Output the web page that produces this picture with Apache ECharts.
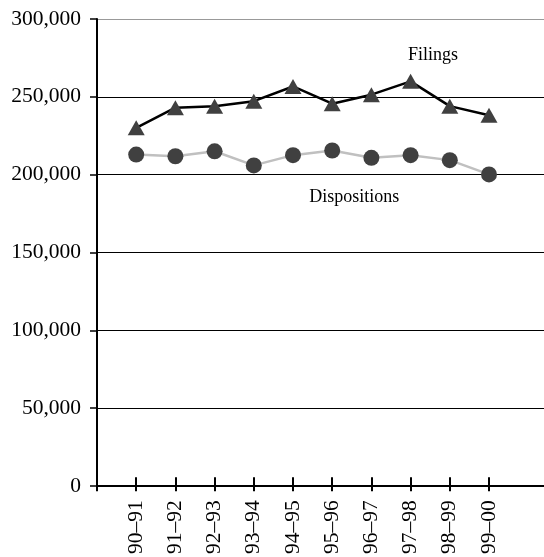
<!DOCTYPE html>
<html>
<head>
<meta charset="utf-8">
<script src="https://cdn.jsdelivr.net/npm/echarts@6/dist/echarts.min.js"></script>
<style>
  html, body { margin: 0; padding: 0; background: #fff; }
  #chart { width: 544px; height: 557px; }
</style>
</head>
<body>
<div id="chart"></div>
<script>
// fiscal years
const years = ['90–91', '91–92', '92–93', '93–94', '94–95', '95–96', '96–97', '97–98', '98–99', '99–00'];
const filings = [229800, 242800, 243800, 247000, 256500, 245400, 251200, 259800, 243800, 237900];
const dispositions = [212600, 211500, 214700, 205600, 212200, 215200, 210500, 212200, 209000, 199800];
const yTicks = [0, 50000, 100000, 150000, 200000, 250000, 300000];

const font = 'Liberation Serif';
const toPts = arr => arr.map((v, i) => [i + 1, v]);

const chart = echarts.init(document.getElementById('chart'));
chart.setOption({
  animation: false,
  grid: [
    { left: 97, right: 0, top: 19, bottom: 71 },
    { left: 97, width: 392, top: 19, bottom: 71 }
  ],
  xAxis: [{
    // long axis line running to the edge
    type: 'value', gridIndex: 0, position: 'bottom', min: 0, max: 11.4,
    axisLine: { show: true, lineStyle: { color: '#000', width: 2 } },
    axisTick: { show: false },
    axisLabel: { show: false },
    splitLine: { show: false }
  }, {
    type: 'value', gridIndex: 1, position: 'bottom', min: 0, max: 10, interval: 1,
    axisLine: { show: false },
    axisTick: { show: true, length: 7, lineStyle: { color: '#000', width: 2 } },
    axisLabel: {
      rotate: 90, margin: 16, fontFamily: font, fontSize: 21.5, color: '#000',
      formatter: v => years[v - 1] || ''
    },
    splitLine: { show: false }
  }, {
    type: 'value', gridIndex: 1, position: 'bottom', min: 0, max: 10, interval: 1,
    axisLine: { show: false },
    axisTick: { show: true, inside: true, length: 7, lineStyle: { color: '#000', width: 2 } },
    axisLabel: { show: false },
    splitLine: { show: false }
  }],
  yAxis: [{
    type: 'value', gridIndex: 0, min: yTicks[0], max: yTicks[yTicks.length - 1], interval: 50000,
    axisLine: { show: true, lineStyle: { color: '#000', width: 2 } },
    axisTick: { show: true, length: 7, lineStyle: { color: '#000', width: 1.5 } },
    axisLabel: {
      margin: 16, fontFamily: font, fontSize: 21.5, color: '#000',
      formatter: v => v.toLocaleString('en-US')
    },
    splitLine: {
      show: true,
      lineStyle: { color: ['#000', '#000', '#000', '#000', '#000', '#000', '#999'], width: 1 }
    }
  }, {
    type: 'value', gridIndex: 1, min: 0, max: 300000,
    show: false
  }],
  series: [{
    name: 'Filings',
    type: 'line',
    xAxisIndex: 1, yAxisIndex: 1,
    data: toPts(filings),
    symbol: 'triangle',
    symbolSize: [17, 15],
    itemStyle: { color: '#404040' },
    lineStyle: { color: '#000', width: 2.5 },
    markPoint: {
      symbol: 'circle', symbolSize: 0,
      data: [{ coord: [8.57, 276500], value: 'Filings' }],
      label: { show: true, position: 'inside', fontFamily: font, fontSize: 18, color: '#000', formatter: '{c}' }
    },
    z: 3
  }, {
    name: 'Dispositions',
    type: 'line',
    xAxisIndex: 1, yAxisIndex: 1,
    data: toPts(dispositions),
    symbol: 'circle',
    symbolSize: 16,
    itemStyle: { color: '#404040' },
    lineStyle: { color: '#c0c0c0', width: 2.5 },
    markPoint: {
      symbol: 'circle', symbolSize: 0,
      data: [{ coord: [6.56, 185000], value: 'Dispositions' }],
      label: { show: true, position: 'inside', fontFamily: font, fontSize: 18, color: '#000', formatter: '{c}' }
    },
    z: 2
  }]
});
</script>
</body>
</html>
